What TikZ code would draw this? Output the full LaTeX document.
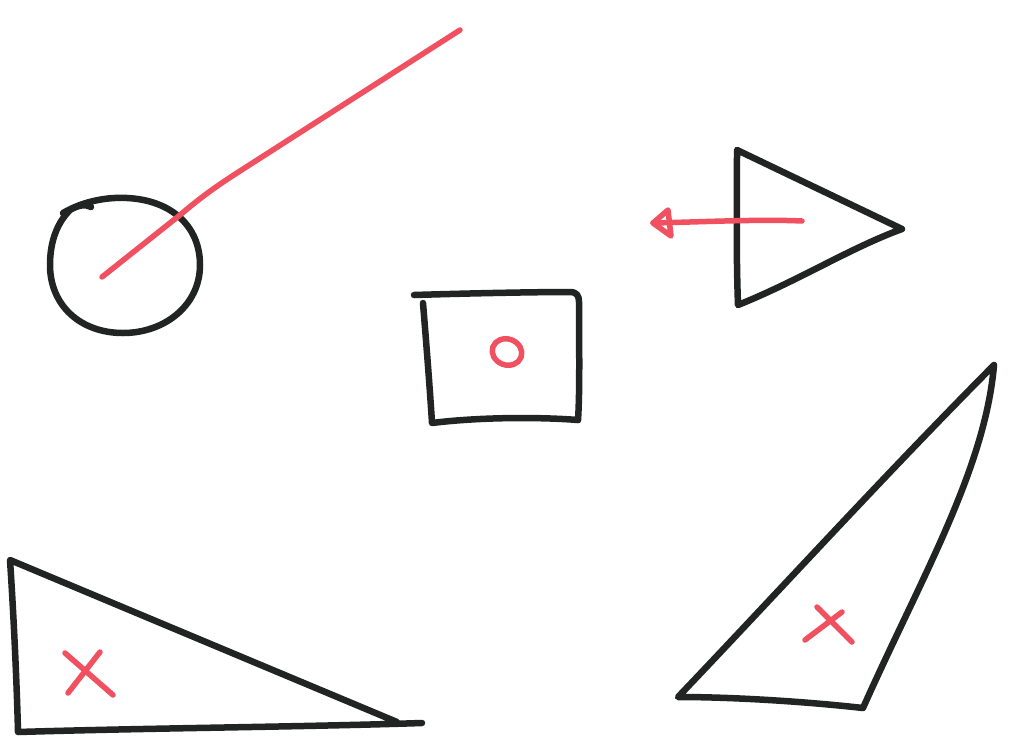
\documentclass[tikz,border=0pt]{standalone}
\definecolor{ink}{RGB}{34,36,36}
\definecolor{pen}{RGB}{240,80,95}
\begin{document}
\begin{tikzpicture}[x=1pt,y=-1pt,
  blk/.style={draw=ink,line width=6.5pt,line cap=round,line join=round},
  red/.style={draw=pen,line width=5.5pt,line cap=round,line join=round}]
\useasboundingbox[fill=white] (0,0) rectangle (1023,745);
% circle
\draw[blk] (63,213) .. controls (85,200) and (110,197) .. (127,198)
  .. controls (170,200) and (200,225) .. (200,265)
  .. controls (200,305) and (165,333) .. (123,333)
  .. controls (80,333) and (50,305) .. (50,265)
  .. controls (50,240) and (58,222) .. (70,210)
  .. controls (78,205) and (86,204) .. (91,207);
% red line
\draw[red] (102,277) -- (180,215) .. controls (200,198) and (215,187) .. (240,171) -- (460,30);
% rectangle
\draw[blk] (414,295) .. controls (480,293) and (540,292) .. (570,292)
  .. controls (577,292) and (579,296) .. (579,302)
  .. controls (579,340) and (580,390) .. (578,420);
\draw[blk] (423,303) .. controls (426,340) and (430,390) .. (432,423)
  .. controls (480,417) and (540,417) .. (578,420);
% red o
\draw[red,rotate around={-20:(507,352)}] (507,352) ellipse (15 and 13);
% right triangle (pointing right)
\draw[blk] (738,305) .. controls (736,250) and (737,200) .. (737,150)
  -- (902,229) .. controls (850,248) and (800,280) .. cycle;
% red arrow
\draw[red] (802,221) .. controls (760,219) and (700,222) .. (653,223);
\draw[red] (653,223) -- (668,210) -- (671,236) -- cycle;
% bottom-left triangle
\draw[blk] (397,722) -- (10,560) .. controls (14,620) and (17,690) .. (18,732)
  .. controls (150,728) and (300,727) .. (422,723);
% red X left
\draw[red] (65,653) -- (113,695);
\draw[red] (100,652) -- (68,693);
% bottom-right triangle
\draw[blk] (994,365) .. controls (880,480) and (780,590) .. (678,697)
  .. controls (730,697) and (800,701) .. (863,708)
  .. controls (920,580) and (985,470) .. cycle;
% red X right
\draw[red] (817,607) -- (852,642);
\draw[red] (842,612) -- (805,640);
\end{tikzpicture}
\end{document}
